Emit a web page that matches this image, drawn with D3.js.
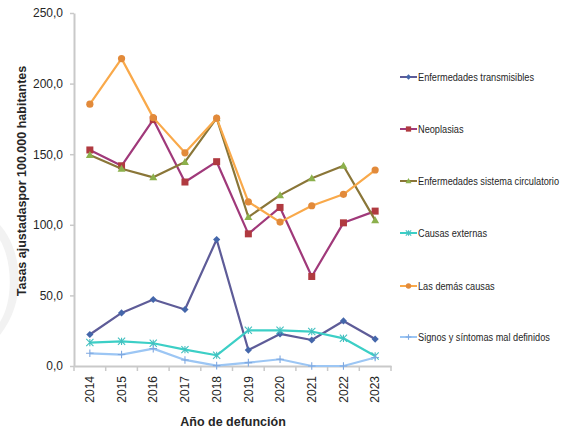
<!DOCTYPE html>
<html>
<head>
<meta charset="utf-8">
<script src="https://cdn.jsdelivr.net/npm/d3@7"></script>
<style>
  html, body { margin: 0; padding: 0; background: #fff; }
  svg { display: block; }
  .tick text { font-family: "Liberation Sans", Arial, sans-serif; font-size: 12px; fill: #262626; }
  .legend text { font-family: "Liberation Sans", Arial, sans-serif; font-size: 11.5px; fill: #262626; }
</style>
</head>
<body>
<svg id="chart" width="563" height="431"></svg>
<script>
// Mortality rates (adjusted, per 100,000 inhabitants) by year of death
const years = ["2014", "2015", "2016", "2017", "2018", "2019", "2020", "2021", "2022", "2023"];
const yTicks = [0, 50, 100, 150, 200, 250];

const transmisibles = [22.3, 37.6, 47.1, 40.0, 89.6, 11.3, 22.7, 18.4, 31.9, 19.1];
const neoplasias    = [153.0, 141.8, 174.5, 130.3, 144.7, 93.6, 112.3, 63.4, 101.4, 109.7];
const circulatorio  = [149.4, 139.7, 133.6, 144.5, 175.5, 105.5, 121.0, 132.9, 141.8, 103.3];
const externas      = [16.6, 17.5, 16.1, 11.6, 7.6, 25.3, 25.3, 24.4, 19.6, 7.1];
const demas         = [185.4, 217.7, 175.9, 151.0, 175.5, 116.3, 101.9, 113.5, 121.6, 138.8];
const signos        = [9.0, 8.1, 12.3, 4.3, 0.3, 2.4, 4.8, 0.0, 0.0, 6.0];

const seriesNames = [
  "Enfermedades transmisibles",
  "Neoplasias",
  "Enfermedades sistema circulatorio",
  "Causas externas",
  "Las demás causas",
  "Signos y síntomas mal definidos"
];

const series = [
  { name: seriesNames[0], values: transmisibles, line: "#5E5C98", mark: "#4466AA", shape: "diamond" },
  { name: seriesNames[1], values: neoplasias,    line: "#A0397A", mark: "#B03A40", shape: "square" },
  { name: seriesNames[2], values: circulatorio,  line: "#8A7638", mark: "#8CB04C", shape: "triangle" },
  { name: seriesNames[3], values: externas,      line: "#3CCFC6", mark: "#44C0C0", shape: "star" },
  { name: seriesNames[4], values: demas,         line: "#F9A94A", mark: "#E28A3A", shape: "circle" },
  { name: seriesNames[5], values: signos,        line: "#9CC6F4", mark: "#7FA8E0", shape: "plus" }
];

const svg = d3.select("#chart");

// faint background mark on the left edge
svg.append("path")
  .attr("d", "M0,225 C22,250 28,300 0,335 L0,322 C14,300 12,260 0,240 Z")
  .attr("fill", "#f2f2f2");

const margin = { left: 74, top: 13 };
const plotRight = 391;
const y0 = 366;

const x = d3.scaleBand().domain(years).range([margin.left, plotRight]);
const y = d3.scaleLinear().domain([0, 250]).range([y0, margin.top]);

// y axis
const yAxis = svg.append("g")
  .attr("transform", `translate(${margin.left},0)`)
  .call(d3.axisLeft(y).tickValues(yTicks).tickSize(4).tickSizeOuter(0)
    .tickFormat(d => d3.format(".1f")(d).replace(".", ",")));
yAxis.select(".domain").attr("stroke", "#c9c9c9").attr("stroke-width", 2);
yAxis.selectAll(".tick line").attr("stroke", "#c9c9c9").attr("stroke-width", 1.5);
yAxis.selectAll(".tick text").attr("x", -11);

// x axis: ticks at category boundaries
const xAxis = svg.append("g")
  .attr("transform", `translate(0,${y0})`)
  .call(d3.axisBottom(x).tickSize(0).tickSizeOuter(0));
xAxis.select(".domain").attr("stroke", "#c9c9c9").attr("stroke-width", 2);
xAxis.selectAll(".tick text")
  .attr("transform", "rotate(-90)")
  .attr("text-anchor", "end")
  .attr("dy", "0.35em")
  .attr("x", -10)
  .attr("y", 0);
const bounds = years.map(d => x(d)).concat([plotRight]);
xAxis.selectAll(".sep").data(bounds).enter().append("line")
  .attr("x1", d => d).attr("x2", d => d)
  .attr("y1", 0).attr("y2", 5)
  .attr("stroke", "#c9c9c9").attr("stroke-width", 1.5);

// axis titles
svg.append("text")
  .attr("transform", `translate(26,181) rotate(-90)`)
  .attr("text-anchor", "middle")
  .attr("font-family", "Liberation Sans, Arial, sans-serif")
  .attr("font-size", 12.5).attr("font-weight", "bold").attr("fill", "#262626")
  .text("Tasas ajustadaspor 100.000 habitantes");

svg.append("text")
  .attr("x", 233).attr("y", 426)
  .attr("text-anchor", "middle")
  .attr("font-family", "Liberation Sans, Arial, sans-serif")
  .attr("font-size", 12.5).attr("font-weight", "bold").attr("fill", "#262626")
  .text("Año de defunción");

// marker drawing
function drawMarker(g, shape, color, s) {
  const k = s || 1;
  if (shape === "diamond") {
    g.append("path").attr("d", `M0,${-3.6*k}L${3.6*k},0L0,${3.6*k}L${-3.6*k},0Z`).attr("fill", color);
  } else if (shape === "square") {
    g.append("rect").attr("x", -3.5*k).attr("y", -3.5*k).attr("width", 7*k).attr("height", 7*k).attr("fill", color);
  } else if (shape === "triangle") {
    g.append("path").attr("d", `M0,${-4*k}L${4*k},${3*k}L${-4*k},${3*k}Z`).attr("fill", color);
  } else if (shape === "circle") {
    g.append("circle").attr("r", 3.6*k).attr("fill", color);
  } else if (shape === "star") {
    const r = 3.6*k;
    g.append("path")
      .attr("d", `M${-r},${-r}L${r},${r}M${-r},${r}L${r},${-r}M0,${-r}L0,${r}`)
      .attr("stroke", color).attr("stroke-width", 1.1).attr("fill", "none");
  } else if (shape === "plus") {
    const r = 3.8*k;
    g.append("path")
      .attr("d", `M${-r},0L${r},0M0,${-r}L0,${r}`)
      .attr("stroke", color).attr("stroke-width", 1.1).attr("fill", "none");
  }
}

const line = d3.line()
  .x((d, i) => x(years[i]) + x.bandwidth() / 2)
  .y(d => y(d));

// series lines & markers
series.forEach(s => {
  const g = svg.append("g");
  g.append("path")
    .datum(s.values)
    .attr("d", line)
    .attr("fill", "none")
    .attr("stroke", s.line)
    .attr("stroke-width", 2.2)
    .attr("stroke-linejoin", "round");
  s.values.forEach((v, i) => {
    const m = g.append("g").attr("transform", `translate(${x(years[i]) + x.bandwidth() / 2},${y(v)})`);
    drawMarker(m, s.shape, s.mark);
  });
});

// legend (condensed labels)
const legendY = [77, 129, 181, 233, 286, 337];
const legend = svg.append("g").attr("class", "legend");
series.forEach((s, i) => {
  const g = legend.append("g").attr("transform", `translate(400,${legendY[i]})`);
  g.append("line").attr("x1", 0).attr("x2", 17).attr("y1", 0).attr("y2", 0)
    .attr("stroke", s.line).attr("stroke-width", 2);
  const m = g.append("g").attr("transform", "translate(8.5,0)");
  drawMarker(m, s.shape, s.mark, 0.75);
  g.append("text")
    .attr("transform", "translate(18,0) scale(0.8,1)")
    .attr("dy", "0.35em")
    .text(s.name);
});
</script>
</body>
</html>
